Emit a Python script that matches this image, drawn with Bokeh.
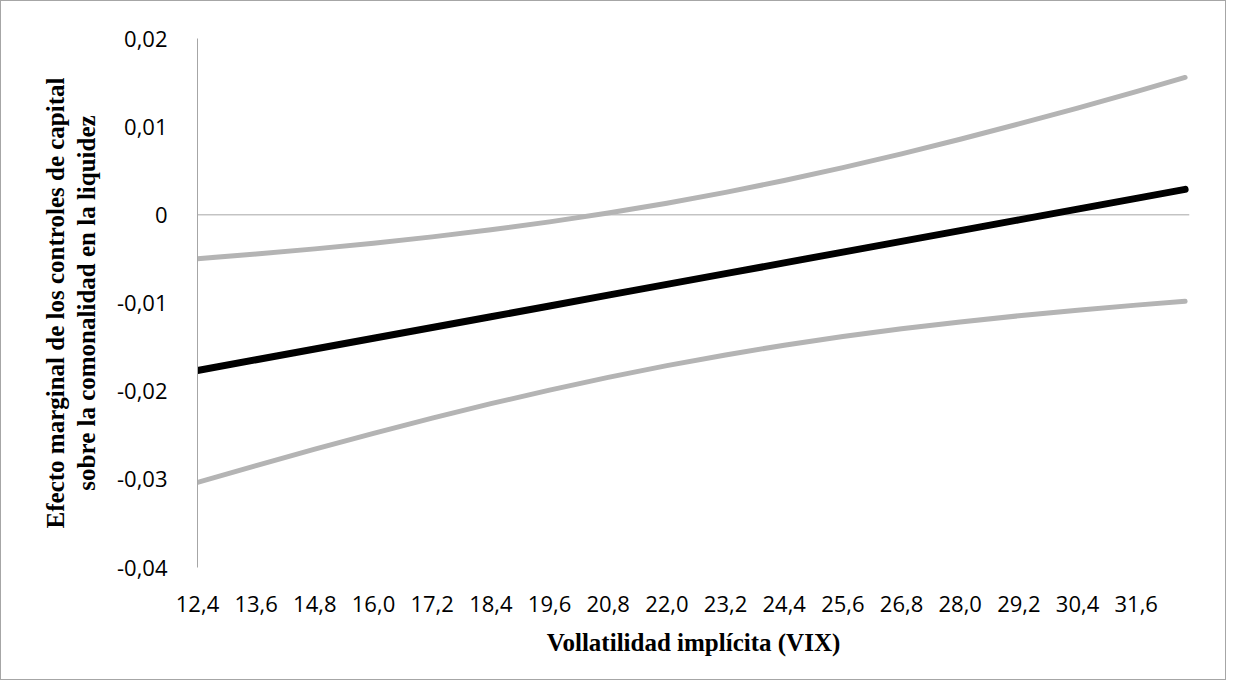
from bokeh.plotting import figure
from bokeh.models import Range1d, FixedTicker, CustomJSTickFormatter, Span
from bokeh.embed import file_html
from bokeh.resources import INLINE

# ---- data ----
vix = [12.4, 13.6, 14.8, 16.0, 17.2, 18.4, 19.6, 20.8, 22.0, 23.2,
       24.4, 25.6, 26.8, 28.0, 29.2, 30.4, 31.6, 32.6]
efecto = [-0.01766, -0.01644, -0.01522, -0.01400, -0.01278, -0.01156, -0.01034, -0.00911,
          -0.00789, -0.00667, -0.00545, -0.00423, -0.00301, -0.00179, -0.00057, 0.00065,
          0.00187, 0.00289]
limite_sup = [-0.00497, -0.00444, -0.00386, -0.00322, -0.00250, -0.00170, -0.00080, 0.00021,
              0.00132, 0.00255, 0.00389, 0.00535, 0.00691, 0.00857, 0.01031, 0.01211,
              0.01398, 0.01558]
limite_inf = [-0.03035, -0.02844, -0.02658, -0.02478, -0.02306, -0.02142, -0.01988, -0.01843,
              -0.01710, -0.01589, -0.01479, -0.01381, -0.01293, -0.01215, -0.01145, -0.01081,
              -0.01024, -0.00980]

x_ticks = [12.4, 13.6, 14.8, 16.0, 17.2, 18.4, 19.6, 20.8, 22.0, 23.2,
           24.4, 25.6, 26.8, 28.0, 29.2, 30.4, 31.6]
x_tick_labels = ["12,4", "13,6", "14,8", "16,0", "17,2", "18,4", "19,6", "20,8", "22,0",
                 "23,2", "24,4", "25,6", "26,8", "28,0", "29,2", "30,4", "31,6"]
y_ticks = [-0.04, -0.03, -0.02, -0.01, 0.0, 0.01, 0.02]
y_tick_labels = ["-0,04", "-0,03", "-0,02", "-0,01", "0", "0,01", "0,02"]

x_title = "Vollatilidad implícita (VIX)"
y_title = "Efecto marginal de los controles de capital\nsobre la comonalidad en la liquidez"

TICK_FONT = "Open Sans"
TITLE_FONT = "Liberation Serif"
AXIS_GRAY = "#a6a6a6"

p = figure(width=1226, height=680, output_backend="svg", toolbar_location=None,
           x_range=Range1d(12.4, 32.69), y_range=Range1d(-0.04, 0.02),
           min_border_left=196, min_border_right=38, min_border_top=37,
           min_border_bottom=114)
p.styles = {"border": "1px solid #a6a6a6"}
p.outline_line_color = None
p.xgrid.visible = False
p.ygrid.visible = False

zero = Span(location=0, dimension="width", line_color=AXIS_GRAY, line_width=1,
            level="underlay")
p.add_layout(zero)

p.line(vix, limite_sup, line_color="#b4b4b4", line_width=5, line_cap="round", line_join="round")
p.line(vix, limite_inf, line_color="#b4b4b4", line_width=5, line_cap="round", line_join="round")
p.line(vix, efecto, line_color="#000000", line_width=7, line_cap="round", line_join="round")

FMT = """
let best = 0; let d = 1e9;
for (let i = 0; i < t.length; i++) { const dd = Math.abs(t[i] - tick); if (dd < d) { d = dd; best = i; } }
return l[best];
"""

# x axis (labels at the bottom, Excel "low" position)
xa = p.xaxis[0]
xa.ticker = FixedTicker(ticks=x_ticks)
xa.formatter = CustomJSTickFormatter(args=dict(t=x_ticks, l=x_tick_labels), code=FMT)
xa.axis_line_color = None
xa.major_tick_line_color = None
xa.minor_tick_line_color = None
xa.major_label_standoff = 22
xa.major_label_text_font = TICK_FONT
xa.major_label_text_font_size = "22px"
xa.major_label_text_color = "#000000"
xa.axis_label = x_title
xa.axis_label_text_font = TITLE_FONT
xa.axis_label_text_font_style = "bold"
xa.axis_label_text_font_size = "25px"
xa.axis_label_text_color = "#000000"
xa.axis_label_standoff = 14

ya = p.yaxis[0]
ya.ticker = FixedTicker(ticks=y_ticks)
ya.formatter = CustomJSTickFormatter(args=dict(t=y_ticks, l=y_tick_labels), code=FMT)
ya.axis_line_color = AXIS_GRAY
ya.axis_line_width = 1
ya.major_tick_line_color = None
ya.minor_tick_line_color = None
ya.major_label_standoff = 24
ya.major_label_text_font = TICK_FONT
ya.major_label_text_font_size = "22px"
ya.major_label_text_color = "#000000"
ya.axis_label = y_title
ya.axis_label_text_font = TITLE_FONT
ya.axis_label_text_font_style = "bold"
ya.axis_label_text_font_size = "25px"
ya.axis_label_text_color = "#000000"
ya.axis_label_text_line_height = 1.15
ya.axis_label_standoff = 14

open("out.html", "w").write(file_html(p, INLINE))
